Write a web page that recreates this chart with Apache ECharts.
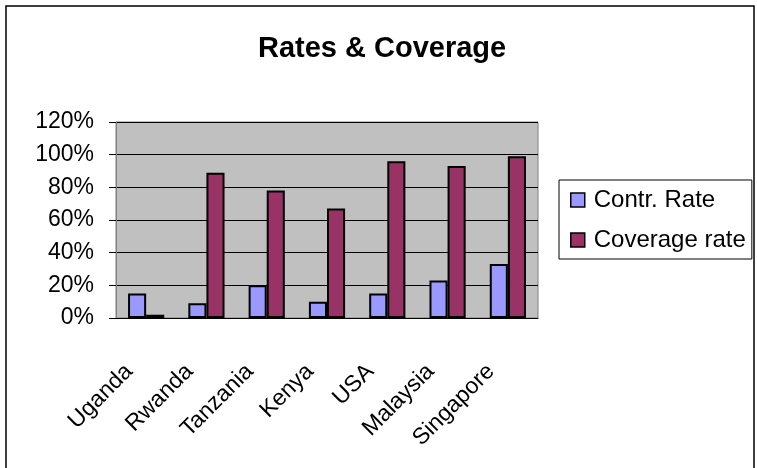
<!DOCTYPE html>
<html>
<head>
<meta charset="utf-8">
<script src="https://cdn.jsdelivr.net/npm/echarts@6/dist/echarts.min.js"></script>
<style>
html, body { margin: 0; padding: 0; background: #fff; }
#chart { width: 757px; height: 468px; }
</style>
</head>
<body>
<div id="chart"></div>
<script>
var countries = ['Uganda', 'Rwanda', 'Tanzania', 'Kenya', 'USA', 'Malaysia', 'Singapore'];
var contrRate = [15, 9, 20, 10, 15, 23, 33];
var coverageRate = [2, 89, 78, 67, 96, 93, 99];
var yTicks = [0, 20, 40, 60, 80, 100, 120];

var font = 'Liberation Sans, Arial, sans-serif';
var chart = echarts.init(document.getElementById('chart'));

chart.setOption({
    backgroundColor: '#fff',
    animation: false,
    title: {
        text: 'Rates & Coverage',
        left: 253,
        top: 29,
        textStyle: { fontFamily: font, fontSize: 29, fontWeight: 'bold', color: '#000' }
    },
    graphic: [{
        type: 'rect',
        shape: { x: 6, y: 6, width: 748, height: 470 },
        style: { fill: 'none', stroke: '#000', lineWidth: 1.5 },
        silent: true
    }],
    legend: {
        orient: 'vertical',
        left: 559,
        top: 180,
        padding: [8, 6, 7, 11],
        itemGap: 16,
        itemWidth: 14,
        itemHeight: 14,
        borderColor: '#000',
        borderWidth: 1,
        icon: 'rect',
        itemStyle: { borderColor: '#000', borderWidth: 1.5 },
        textStyle: { fontFamily: font, fontSize: 24, color: '#000', lineHeight: 24, padding: [0, 0, 0, 4] },
        data: ['Contr. Rate', 'Coverage rate']
    },
    grid: {
        left: 116,
        right: 219,
        top: 122,
        bottom: 150,
        show: true,
        backgroundColor: '#C0C0C0',
        borderColor: '#808080',
        borderWidth: 1
    },
    xAxis: {
        type: 'category',
        data: countries,
        axisLine: { lineStyle: { color: '#000', width: 1 } },
        axisTick: { length: 7, lineStyle: { color: '#808080' } },
        axisLabel: {
            rotate: 45,
            margin: 33,
            interval: 0,
            fontFamily: font,
            fontSize: 23,
            color: '#000',
            padding: [0, 24, 0, 0]
        }
    },
    yAxis: {
        type: 'value',
        min: yTicks[0],
        max: yTicks[yTicks.length - 1],
        interval: 20,
        axisLine: { show: true, lineStyle: { color: '#808080', width: 1 } },
        axisTick: { show: true, length: 7, lineStyle: { color: '#000' } },
        axisLabel: {
            margin: 22,
            fontFamily: font,
            fontSize: 23,
            color: '#000',
            formatter: '{value}%'
        },
        splitLine: { lineStyle: { color: '#000', width: 1 } }
    },
    series: [{
        name: 'Contr. Rate',
        type: 'bar',
        data: contrRate,
        barGap: '0%',
        barCategoryGap: '40%',
        itemStyle: { color: '#9999FF', borderColor: '#000', borderWidth: 2 }
    }, {
        name: 'Coverage rate',
        type: 'bar',
        data: coverageRate,
        itemStyle: { color: '#993366', borderColor: '#000', borderWidth: 2 }
    }]
});
</script>
</body>
</html>
